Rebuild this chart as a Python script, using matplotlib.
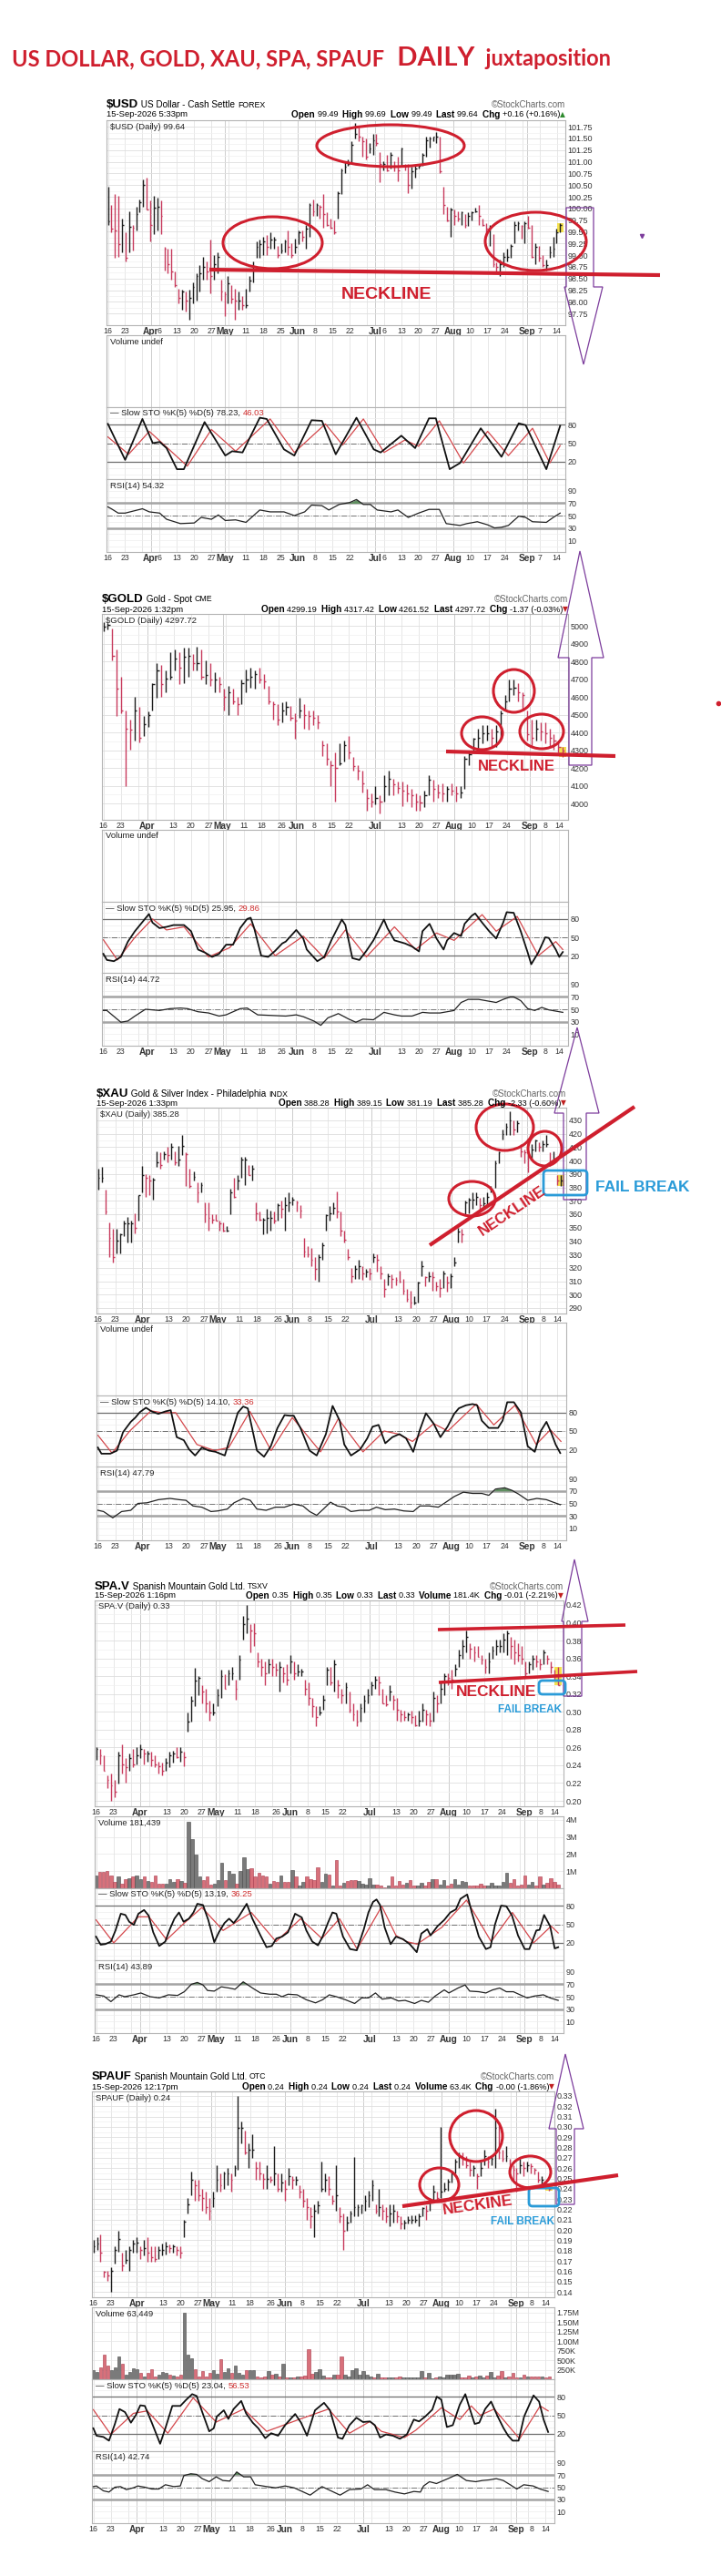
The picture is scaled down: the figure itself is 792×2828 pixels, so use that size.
import numpy as np
import matplotlib
matplotlib.use("Agg")
import matplotlib.pyplot as plt
from matplotlib import font_manager
from matplotlib.patches import Ellipse, FancyBboxPatch, Polygon

# ---------------- data ----------------
# $USD daily bars (high / low / close)
usd_hi = [100.46, 100.07, 100.30, 100.27, 99.78, 99.49, 99.94, 99.65, 100.04, 100.20,
          100.63, 100.66, 100.17, 100.27, 100.24, 100.17, 99.17, 99.13, 99.13, 98.65,
          98.29, 98.26, 98.22, 98.26, 98.42, 98.61, 98.78, 98.97, 98.87, 99.33,
          99.00, 99.07, 98.48, 98.22, 98.55, 98.35, 98.29, 98.22, 98.13, 98.29,
          98.55, 98.87, 99.30, 99.33, 99.39, 99.43, 99.49, 99.39, 99.20, 99.26,
          99.33, 99.52, 99.26, 99.36, 99.52, 99.52, 99.65, 100.11, 100.20, 100.11,
          100.07, 100.30, 99.91, 99.78, 99.75, 100.37, 100.85, 101.02, 101.05, 101.44,
          101.83, 101.73, 101.54, 101.50, 101.41, 101.60, 101.60, 101.21, 101.02, 101.15,
          101.21, 101.02, 101.11, 101.31, 100.95, 100.95, 100.89, 100.92, 100.95, 101.18,
          101.54, 101.54, 101.54, 101.63, 101.54, 100.46, 100.04, 100.01, 99.98, 99.94,
          99.94, 99.88, 99.91, 99.94, 100.01, 100.07, 99.78, 99.69, 99.65, 99.46,
          98.84, 98.91, 99.07, 99.13, 99.23, 99.72, 99.72, 99.65, 99.72, 99.85,
          99.65, 99.26, 99.20, 99.00, 98.91, 99.20, 99.39, 99.56, 99.69]
usd_lo = [99.65, 99.49, 98.94, 98.97, 99.07, 98.87, 99.07, 99.10, 99.52, 99.91,
          100.04, 99.98, 99.30, 99.46, 99.52, 99.46, 98.68, 98.61, 98.48, 98.32,
          97.96, 97.83, 97.80, 97.61, 97.96, 98.03, 98.22, 98.48, 98.48, 98.19,
          98.48, 98.61, 98.03, 97.70, 97.96, 97.96, 97.61, 97.83, 97.83, 97.87,
          98.22, 98.42, 98.94, 98.94, 99.00, 99.00, 99.13, 99.13, 98.94, 99.04,
          99.07, 99.00, 98.94, 99.04, 99.23, 99.30, 99.13, 99.39, 99.85, 99.85,
          99.78, 99.59, 99.62, 99.56, 99.46, 99.78, 100.30, 100.76, 100.92, 100.98,
          101.50, 101.44, 101.11, 101.05, 101.18, 101.15, 101.34, 100.56, 100.82, 100.79,
          100.85, 100.79, 100.59, 100.89, 100.82, 100.33, 100.43, 100.66, 100.85, 100.92,
          101.11, 101.31, 101.44, 101.41, 100.76, 99.88, 99.72, 99.39, 99.65, 99.72,
          99.65, 99.59, 99.62, 99.75, 99.91, 99.65, 99.62, 99.46, 99.20, 98.74,
          98.61, 98.55, 98.74, 98.87, 98.94, 99.26, 99.52, 99.36, 99.26, 99.56,
          98.94, 98.81, 98.87, 98.74, 98.68, 98.94, 98.97, 99.26, 99.49]
usd_cl = [99.72, 99.56, 99.52, 99.23, 99.65, 98.94, 99.60, 99.59, 99.88, 100.14,
          100.50, 99.98, 99.65, 100.01, 100.04, 99.85, 99.13, 98.81, 98.65, 98.35,
          98.09, 98.22, 98.03, 98.09, 98.32, 98.55, 98.61, 98.74, 98.65, 98.55,
          98.81, 98.97, 98.22, 98.16, 98.39, 98.06, 98.03, 98.03, 97.93, 97.93,
          98.45, 98.74, 99.17, 99.23, 99.30, 99.17, 99.33, 99.33, 99.00, 99.10,
          99.30, 99.17, 99.00, 99.17, 99.49, 99.39, 99.56, 100.07, 99.94, 100.07,
          100.04, 99.88, 99.65, 99.59, 99.49, 100.33, 100.82, 100.89, 100.95, 101.37,
          101.60, 101.54, 101.44, 101.11, 101.28, 101.47, 101.41, 100.95, 100.95, 100.82,
          101.15, 100.92, 100.82, 101.28, 100.89, 100.50, 100.79, 100.85, 100.92, 101.15,
          101.47, 101.50, 101.54, 101.54, 100.79, 100.07, 99.75, 99.98, 99.85, 99.78,
          99.91, 99.65, 99.85, 99.91, 99.94, 99.85, 99.65, 99.56, 99.59, 98.81,
          98.74, 98.81, 98.97, 98.97, 99.20, 99.65, 99.69, 99.62, 99.69, 99.59,
          98.97, 99.17, 98.94, 98.78, 98.78, 99.07, 99.13, 99.49, 99.64]
usd_k_day = [0, 5, 10, 13, 15, 17, 20, 22, 28, 34, 36, 39, 44, 46, 51, 54, 59, 62, 66, 72,
             77, 79, 85, 89, 93, 95, 99, 102, 108, 114, 119, 121, 127, 131]
usd_k = [81, 23, 89, 50, 52, 42, 8, 8, 84, 30, 37, 35, 91, 89, 40, 30, 87, 86, 32, 91,
         40, 35, 62, 42, 90, 90, 8, 18, 74, 28, 82, 79, 8, 78]
usd_d_day = [0, 6, 12, 23, 30, 37, 47, 54, 63, 68, 74, 80, 86, 90, 96, 103, 110, 116, 123, 128, 131]
usd_d = [60, 32, 69, 13, 72, 37, 89, 35, 81, 47, 89, 35, 55, 45, 86, 18, 69, 30, 74, 18, 46]
usd_rsi_day = [0, 1, 3, 5, 10, 12, 15, 17, 21, 25, 27, 30, 32, 34, 37, 40, 44, 47, 51, 54,
               57, 59, 62, 64, 67, 70, 72, 74, 76, 78, 82, 84, 87, 90, 93, 96, 98, 102, 104, 107,
               110, 112, 114, 116, 119, 121, 123, 127, 129, 131]
usd_rsi = [64, 61, 54, 54, 61, 56, 54, 44, 37, 38, 47, 44, 51, 42, 43, 39, 59, 56, 56, 50,
           56, 67, 66, 59, 68, 71, 76, 68, 68, 59, 56, 59, 47, 54, 60, 60, 37, 34, 37, 40,
           35, 30, 31, 34, 49, 47, 40, 39, 47, 54]

# $GOLD
gold_hi = [5020, 5017, 4986, 4867, 4713, 4525, 4474, 4602, 4542, 4491,
           4516, 4679, 4790, 4781, 4747, 4850, 4867, 4850, 4875, 4875,
           4841, 4884, 4867, 4807, 4790, 4738, 4713, 4644, 4662, 4644,
           4602, 4696, 4756, 4764, 4747, 4764, 4730, 4662, 4576, 4559,
           4568, 4576, 4550, 4508, 4593, 4559, 4525, 4525, 4499, 4354,
           4337, 4243, 4285, 4337, 4354, 4379, 4260, 4217, 4183, 4080,
           4055, 4097, 4046, 4157, 4183, 4140, 4123, 4123, 4106, 4080,
           4055, 4046, 4072, 4157, 4132, 4106, 4115, 4097, 4115, 4097,
           4097, 4268, 4285, 4371, 4422, 4439, 4439, 4422, 4439, 4525,
           4610, 4696, 4696, 4679, 4627, 4525, 4474, 4474, 4456, 4456,
           4422, 4388, 4354, 4317]
gold_lo = [4969, 4978, 4807, 4491, 4508, 4097, 4303, 4354, 4345, 4379,
           4431, 4525, 4593, 4602, 4627, 4696, 4747, 4670, 4679, 4713,
           4747, 4747, 4696, 4670, 4662, 4627, 4627, 4525, 4499, 4559,
           4499, 4559, 4627, 4653, 4644, 4679, 4644, 4559, 4474, 4439,
           4456, 4499, 4465, 4362, 4482, 4422, 4414, 4439, 4422, 4268,
           4217, 4097, 4012, 4217, 4234, 4251, 4183, 4132, 4063, 3961,
           3978, 3995, 3944, 4012, 4046, 4046, 4055, 3986, 4012, 3978,
           3961, 3961, 3978, 4046, 4012, 4029, 4012, 4012, 4046, 4012,
           4029, 4080, 4217, 4285, 4303, 4337, 4354, 4320, 4320, 4371,
           4525, 4576, 4610, 4576, 4525, 4354, 4320, 4354, 4354, 4337,
           4320, 4303, 4285, 4262]
gold_cl = [4995, 5003, 4832, 4644, 4525, 4422, 4414, 4525, 4371, 4448,
           4499, 4670, 4747, 4670, 4704, 4713, 4815, 4764, 4824, 4832,
           4790, 4790, 4713, 4721, 4696, 4696, 4670, 4602, 4627, 4576,
           4559, 4679, 4696, 4713, 4730, 4696, 4687, 4576, 4559, 4474,
           4525, 4542, 4482, 4465, 4525, 4499, 4491, 4482, 4456, 4328,
           4251, 4217, 4200, 4226, 4328, 4285, 4209, 4183, 4115, 4029,
           4012, 4029, 4012, 4097, 4140, 4106, 4089, 4072, 4055, 4046,
           4012, 4003, 4046, 4132, 4080, 4063, 4055, 4080, 4072, 4055,
           4063, 4251, 4277, 4362, 4371, 4397, 4397, 4371, 4405, 4508,
           4576, 4644, 4653, 4627, 4610, 4388, 4371, 4422, 4405, 4397,
           4371, 4354, 4320, 4298]
gold_k_day = [0, 1, 3, 5, 7, 9, 11, 13, 14, 16, 18, 20, 23, 25, 27, 29, 31, 33, 35, 37,
              39, 41, 42, 43, 45, 47, 49, 51, 52, 55, 57, 58, 61, 63, 65, 68, 69, 71, 73, 75,
              77, 80, 81, 83, 86, 88, 90, 91, 93, 95, 97, 98, 100, 102, 103, 105, 106, 108, 110, 112,
              114, 115, 117, 119, 121, 122, 124, 126, 127, 129, 130, 131]
gold_k = [23, 13, 11, 18, 43, 60, 74, 88, 74, 65, 67, 70, 70, 60, 30, 25, 18, 23, 38, 38,
          65, 80, 82, 65, 20, 18, 28, 40, 43, 62, 48, 30, 11, 18, 45, 79, 70, 16, 13, 28,
          45, 79, 65, 45, 40, 35, 27, 60, 72, 48, 30, 45, 57, 52, 72, 85, 89, 74, 60, 48,
          74, 91, 90, 60, 25, 6, 25, 50, 49, 30, 18, 26]
gold_d_day = [0, 4, 9, 14, 18, 23, 30, 36, 42, 49, 57, 63, 69, 75, 83, 89, 95, 100, 108, 112,
              118, 124, 129, 131]
gold_d = [46, 13, 50, 80, 62, 67, 18, 33, 72, 20, 52, 16, 62, 18, 67, 30, 57, 45, 87, 60,
          84, 20, 43, 30]
gold_rsi_day = [0, 1, 5, 7, 9, 12, 16, 19, 22, 24, 27, 30, 33, 35, 39, 41, 44, 48, 52, 55,
                57, 60, 62, 64, 67, 70, 72, 74, 77, 80, 83, 85, 88, 91, 93, 96, 98, 100, 102, 104,
                107, 110, 112, 114, 116, 117, 119, 121, 123, 125, 127, 130, 131]
gold_rsi = [48, 48, 29, 31, 39, 50, 48, 51, 52, 51, 46, 44, 39, 41, 51, 52, 41, 40, 39, 41,
            38, 31, 24, 36, 43, 34, 29, 34, 33, 45, 41, 39, 39, 45, 44, 44, 46, 48, 61, 66,
            66, 63, 61, 66, 70, 70, 64, 51, 48, 53, 49, 46, 45]

# $XAU
xau_hi = [394, 395, 378, 354, 349, 349, 346, 355, 358, 355, 361, 374, 396, 390, 389, 387, 407, 406, 407, 410,
          413, 407, 411, 419, 406, 394, 392, 384, 384, 369, 369, 360, 360, 355, 354, 351, 379, 387, 389, 403,
          403, 397, 397, 369, 362, 357, 364, 363, 362, 368, 370, 373, 376, 373, 370, 367, 342, 336, 335, 328,
          330, 339, 360, 366, 369, 377, 362, 348, 334, 320, 322, 326, 321, 319, 320, 331, 330, 321, 312, 316,
          315, 313, 318, 312, 304, 303, 299, 310, 325, 314, 317, 317, 310, 312, 318, 314, 316, 328, 350, 349,
          370, 372, 376, 376, 372, 373, 376, 381, 400, 407, 423, 428, 437, 430, 430, 412, 408, 404, 412, 416,
          414, 415, 419, 406, 407, 389, 389]
xau_lo = [378, 384, 360, 328, 324, 331, 331, 344, 339, 339, 346, 355, 376, 373, 374, 371, 395, 394, 401, 399,
          401, 397, 396, 404, 381, 380, 385, 369, 376, 354, 348, 353, 355, 348, 347, 347, 360, 372, 378, 387,
          382, 389, 385, 355, 355, 345, 346, 348, 353, 355, 357, 348, 362, 367, 362, 357, 328, 328, 321, 311,
          310, 326, 348, 355, 360, 357, 344, 339, 326, 309, 312, 312, 311, 313, 311, 324, 317, 312, 298, 307,
          305, 307, 309, 300, 295, 290, 293, 294, 314, 306, 310, 303, 303, 298, 305, 302, 305, 321, 339, 339,
          360, 361, 364, 367, 362, 364, 367, 376, 380, 398, 416, 419, 419, 419, 421, 403, 398, 391, 401, 407,
          407, 407, 410, 396, 398, 382, 381]
xau_cl = [387, 387, 362, 342, 328, 340, 345, 353, 353, 353, 350, 374, 389, 387, 385, 386, 399, 397, 405, 404,
          410, 399, 401, 411, 405, 381, 388, 376, 382, 360, 357, 356, 355, 353, 348, 348, 376, 373, 385, 401,
          401, 389, 394, 361, 356, 356, 357, 357, 355, 367, 364, 367, 369, 371, 369, 363, 332, 330, 326, 319,
          328, 337, 359, 361, 365, 362, 348, 341, 328, 314, 319, 321, 316, 317, 316, 328, 326, 316, 304, 314,
          312, 311, 310, 303, 297, 294, 294, 309, 321, 313, 314, 313, 306, 305, 316, 309, 314, 324, 347, 345,
          369, 371, 371, 373, 367, 368, 373, 378, 398, 406, 420, 425, 430, 423, 428, 407, 406, 403, 408, 415,
          410, 412, 412, 398, 401, 385, 385]
xau_k_day = [0, 1, 3.5, 5.4, 7.1, 9.3, 10.6, 11.9, 13.6, 15.2, 17.1, 19.1, 20.6, 22.3, 24.3, 25.8, 27.5, 29.4,
             31.4, 33.3, 35.9, 37.9, 39.6, 41.1, 42.4, 45, 47, 48.9, 50.8, 52.8, 54.3, 55.4, 57.3, 59.9, 61.9,
             64.5, 66.4, 68.4, 69.7, 71.6, 74.2, 76.2, 77.7, 79.4, 81.3, 83.3, 85.3, 87.2, 89.2, 91.1, 92.8, 95,
             96.9, 98.9, 100.8, 102.1, 104.1, 106, 107.3, 108.6, 110.6, 113.2, 114.5, 115.8, 117.7, 119.7, 121.6,
             123.6, 125.3, 126.9, 128.2, 129.5, 130.8]
xau_k = [23, 13, 13, 18, 48, 65, 72, 81, 88, 82, 78, 82, 84, 40, 35, 20, 10, 23, 18, 16,
         10, 48, 80, 90, 87, 18, 8, 25, 55, 76, 75, 75, 55, 18, 10, 45, 91, 67, 28, 10,
         20, 38, 57, 60, 30, 40, 45, 38, 16, 52, 79, 62, 40, 57, 78, 87, 92, 94, 92, 67,
         55, 55, 67, 97, 97, 80, 25, 16, 50, 65, 48, 28, 14]
xau_d_day = [0, 4, 9, 15, 18, 22, 28, 33, 37, 43, 49, 55, 63, 68, 75, 81, 85, 89, 95, 99,
             107, 112, 118, 124, 128, 131]
xau_d = [43, 14, 50, 83, 80, 80, 28, 18, 23, 82, 18, 72, 16, 70, 16, 50, 45, 33, 62, 50,
         94, 60, 92, 28, 52, 33]
xau_rsi_day = [0, 1.6, 4.2, 6.7, 9.3, 11.3, 13.9, 17.1, 20.4, 23, 24.9, 26.9, 29.4, 32, 33.9, 36.6, 38.5,
               41.1, 43.1, 45, 47.6, 50.2, 52.8, 55.4, 58, 59.9, 61.9, 63.8, 65.8, 67.7, 69.7, 71.6, 74.2,
               76.8, 78.8, 81.3, 83.9, 86.5, 89.2, 91.1, 93.7, 96.3, 98.2, 100.8, 103.4, 106, 108.6, 110.6,
               112.5, 115.1, 117.1, 119, 121.6, 124.2, 126.9, 128.8, 130.8]
xau_rsi = [39, 37, 27, 37, 39, 50, 51, 56, 58, 56, 55, 46, 44, 37, 38, 41, 51, 58, 55, 41,
           39, 44, 44, 49, 46, 37, 31, 41, 52, 46, 44, 37, 39, 39, 44, 40, 41, 38, 37, 46,
           46, 44, 51, 61, 68, 66, 66, 63, 73, 75, 71, 65, 55, 58, 56, 52, 48]

# SPA.V
spa_hi = [.260, .258, .251, .229, .231, .224, .255, .263, .248, .253, .258, .260, .263, .258, .256, .255,
          .251, .244, .243, .248, .255, .256, .260, .260, .255, .299, .318, .349, .340, .330, .326, .313,
          .309, .326, .347, .342, .347, .350, .336, .364, .408, .420, .398, .400, .367, .360, .357, .360,
          .360, .355, .357, .350, .354, .364, .357, .354, .348, .336, .333, .316, .306, .306, .319, .350,
          .350, .359, .336, .326, .333, .323, .309, .302, .309, .319, .326, .334, .340, .340, .326, .319,
          .330, .319, .316, .302, .301, .299, .301, .296, .301, .309, .302, .299, .323, .319, .333, .343,
          .343, .347, .354, .370, .381, .391, .377, .374, .374, .364, .360, .367, .374, .381, .381, .388,
          .391, .384, .381, .377, .374, .357, .357, .364, .364, .360, .370, .364, .357, .347, .350]
spa_lo = [.246, .241, .234, .214, .200, .204, .219, .231, .221, .234, .238, .241, .248, .241, .244, .239,
          .238, .231, .229, .234, .238, .243, .248, .244, .239, .278, .289, .306, .319, .309, .299, .290,
          .296, .306, .316, .326, .330, .336, .314, .336, .381, .388, .367, .374, .350, .340, .330, .343,
          .340, .340, .323, .333, .330, .343, .336, .340, .340, .319, .307, .294, .284, .296, .302, .330,
          .330, .323, .316, .309, .309, .299, .290, .284, .289, .299, .309, .319, .326, .319, .309, .306,
          .313, .302, .290, .289, .290, .290, .287, .284, .284, .289, .285, .284, .289, .299, .309, .319,
          .330, .326, .340, .350, .360, .367, .360, .357, .362, .353, .343, .343, .360, .364, .367, .367,
          .364, .360, .353, .357, .353, .340, .343, .347, .350, .347, .353, .353, .343, .336, .330]
spa_cl = [.258, .251, .234, .224, .217, .210, .251, .241, .238, .248, .241, .251, .258, .253, .253, .246,
          .241, .239, .234, .243, .251, .253, .249, .255, .249, .289, .313, .335, .338, .323, .309, .299,
          .299, .319, .340, .326, .343, .343, .326, .359, .398, .405, .391, .388, .357, .350, .343, .354,
          .350, .347, .350, .343, .336, .357, .343, .345, .345, .326, .316, .306, .294, .299, .314, .347,
          .333, .353, .330, .319, .328, .302, .297, .289, .304, .313, .319, .330, .336, .333, .309, .308,
          .323, .314, .302, .297, .294, .297, .294, .285, .290, .302, .297, .290, .316, .309, .326, .340,
          .338, .336, .348, .364, .374, .384, .371, .367, .362, .359, .350, .357, .369, .374, .374, .381,
          .388, .374, .367, .364, .360, .343, .354, .360, .357, .354, .367, .360, .350, .340, .330]
spa_vol_m = [0.76, 0.98, 0.94, 1.0, 0.76, 0.36, 0.71, 0.28, 0.55, 0.59, 0.68, 0.76, 0.53, 0.68, 0.44, 0.36,
             0.75, 0.27, 0.27, 0.28, 0.53, 0.36, 0.55, 0.44, 0.32, 3.9, 2.85, 1.96, 0.68, 0.5, 0.71, 0.23,
             0.28, 0.5, 1.48, 0.46, 1.03, 0.85, 0.28, 1.0, 1.83, 1.12, 1.17, 0.68, 0.89, 0.75, 0.68, 0.27,
             0.44, 0.36, 0.76, 0.36, 0.36, 1.08, 0.68, 0.14, 0.36, 0.68, 0.53, 0.46, 1.21, 0.36, 0.85, 0.82,
             0.14, 1.64, 0.14, 0.32, 0.44, 0.48, 0.48, 0.41, 0.27, 0.2, 0.57, 0.23, 0.23, 0.18, 0.05, 0.14,
             0.68, 0.14, 0.41, 0.23, 0.32, 0.5, 0.14, 0.14, 0.32, 0.18, 0.36, 0.53, 0.53, 0.23, 0.5, 0.14,
             0.28, 0.53, 0.23, 0.41, 0.36, 0.14, 0.14, 0.18, 0.28, 0.14, 0.14, 0.32, 0.14, 0.18, 0.36, 0.89,
             0.32, 0.53, 0.18, 0.23, 0.73, 0.23, 0.36, 0.14, 0.68, 0.23, 0.32, 0.57, 0.36, 0.23]
spa_k_day = [0, 1.3, 2.6, 4.2, 5.5, 7, 8.3, 9.4, 10.7, 12, 13.6, 14.9, 16.2, 17.9, 19.6, 20.9, 22.2, 23.5,
             24.8, 26.3, 27.6, 28.7, 30.3, 31.8, 33.5, 34.8, 36.4, 37.7, 39, 40.4, 42.7, 44.3, 46.6, 48.3,
             49.8, 51.1, 52.7, 54.4, 56.4, 58.3, 59.6, 61.3, 62.9, 64.2, 65.7, 67, 68.1, 70, 72, 73.9, 75.9,
             77.2, 78.5, 79.5, 80.5, 81.8, 83.5, 85, 87, 88.9, 90.9, 92.2, 93.9, 94.8, 96.8, 98.7, 100.4, 102,
             103.3, 105.2, 106.5, 108.5, 110.5, 111.8, 113.1, 114.8, 116.3, 117.9, 119.6, 121.5, 122.8, 124.8,
             125.7, 127, 128.7, 130, 131]
spa_k = [30, 17, 18, 22, 40, 67, 65, 54, 49, 67, 73, 64, 37, 15, 22, 42, 59, 69, 54, 59,
         69, 83, 81, 57, 21, 37, 52, 59, 52, 62, 83, 59, 32, 13, 15, 27, 30, 37, 67, 61,
         40, 22, 16, 30, 52, 69, 67, 30, 10, 8, 42, 69, 86, 90, 81, 45, 18, 30, 26, 18,
         5, 35, 42, 32, 47, 57, 69, 74, 91, 98, 69, 30, 10, 13, 50, 80, 79, 64, 32, 10,
         10, 40, 41, 65, 47, 11, 13]
spa_d_day = [0, 5, 12, 15, 20, 25, 30, 36, 44, 51, 58, 64, 69, 74, 81, 85, 88, 91, 98, 105,
             112, 118, 124, 129, 131]
spa_d = [57, 20, 62, 62, 25, 52, 77, 40, 69, 22, 59, 27, 59, 10, 79, 32, 22, 18, 45, 89,
         22, 69, 20, 47, 36]
spa_rsi_day = [0, 2.2, 4.2, 6.5, 8.1, 10.7, 12.7, 15.3, 17.9, 20.5, 23.1, 25, 27, 28.7, 30.3, 31.6, 33.5,
               35.5, 37.7, 39.4, 41.7, 43.3, 44.6, 46.6, 49.2, 51.1, 52.7, 54.4, 57, 59.6, 62.2, 64.2, 66.1,
               68.1, 70.7, 73.3, 75.3, 77.2, 79.2, 81.1, 83.7, 85.7, 87.6, 90.3, 92.2, 94.2, 96.1, 98.7, 100,
               102.6, 104.6, 105.9, 108.5, 110.5, 112.4, 114.4, 116.3, 118.3, 120.2, 122.2, 124.2, 126.8,
               128.7, 131]
spa_rsi = [53, 51, 42, 53, 50, 53, 56, 50, 48, 53, 52, 58, 70, 73, 69, 60, 59, 66, 64, 62,
           74, 68, 63, 56, 54, 54, 50, 54, 53, 45, 40, 45, 53, 50, 45, 39, 48, 48, 56, 46,
           48, 43, 44, 39, 44, 41, 51, 61, 56, 64, 69, 59, 58, 56, 61, 64, 58, 58, 53, 48,
           51, 53, 48, 44]

# SPAUF
spauf_hi = [.190, .193, .196, .160, .160, .164, .184, .199, .178, .181, .184, .190, .193, .184, .190, .193,
            .184, .184, .184, .187, .189, .186, .186, .184, .184, .210, .231, .257, .249, .249, .240, .237,
            .231, .237, .263, .255, .257, .260, .255, .263, .330, .305, .296, .284, .293, .266, .266, .255,
            .263, .252, .281, .255, .255, .249, .260, .252, .252, .243, .240, .231, .222, .225, .228, .266,
            .255, .252, .234, .263, .222, .216, .213, .219, .271, .225, .225, .234, .238, .249, .225, .240,
            .225, .222, .225, .225, .219, .213, .210, .213, .214, .214, .216, .222, .224, .231, .243, .237,
            .300, .246, .250, .257, .269, .275, .275, .272, .266, .263, .255, .266, .278, .272, .272, .318,
            .302, .278, .281, .269, .263, .260, .269, .266, .266, .265, .260, .257, .252, .246, .243]
spauf_lo = [.178, .181, .169, .154, .151, .140, .167, .179, .160, .167, .160, .178, .178, .172, .175, .169,
            .169, .169, .172, .175, .176, .178, .178, .175, .173, .193, .216, .234, .228, .228, .219, .216,
            .210, .222, .237, .237, .240, .243, .237, .252, .258, .284, .273, .260, .270, .249, .249, .240,
            .240, .246, .243, .237, .237, .228, .243, .240, .243, .231, .222, .210, .202, .193, .216, .237,
            .237, .234, .225, .219, .207, .181, .199, .207, .213, .213, .216, .219, .222, .228, .216, .213,
            .210, .207, .204, .207, .207, .201, .201, .206, .206, .207, .204, .213, .210, .219, .228, .228,
            .231, .237, .238, .246, .255, .260, .263, .260, .252, .252, .240, .252, .263, .260, .263, .260,
            .269, .266, .266, .257, .249, .237, .255, .252, .257, .255, .254, .246, .245, .240, .238]
spauf_cl = [.184, .187, .178, .159, .156, .160, .181, .191, .166, .171, .181, .187, .188, .181, .182, .178,
            .174, .172, .181, .181, .184, .182, .184, .181, .178, .208, .225, .249, .243, .234, .231, .222,
            .219, .231, .249, .243, .255, .255, .249, .260, .299, .299, .275, .278, .278, .260, .255, .250,
            .250, .249, .255, .240, .246, .240, .252, .249, .249, .237, .228, .222, .213, .219, .224, .240,
            .249, .240, .228, .234, .213, .199, .207, .216, .222, .222, .224, .228, .234, .243, .219, .222,
            .219, .213, .216, .219, .213, .206, .207, .210, .210, .210, .213, .221, .219, .228, .237, .231,
            .237, .240, .247, .255, .266, .272, .269, .263, .258, .260, .252, .260, .272, .266, .269, .299,
            .275, .269, .272, .263, .258, .255, .263, .260, .263, .262, .258, .249, .249, .243, .240]
spauf_vol_k = [242, 200, 300, 645, 363, 242, 322, 588, 403, 121, 200, 282, 266, 161, 81, 161, 258, 81, 121,
               185, 161, 121, 105, 81, 121, 1750, 645, 540, 258, 81, 218, 81, 161, 242, 137, 524, 200, 298,
               161, 347, 161, 121, 242, 242, 242, 81, 56, 81, 218, 121, 137, 81, 395, 56, 40, 56, 81, 81,
               105, 782, 137, 200, 258, 105, 56, 56, 121, 121, 588, 121, 81, 242, 282, 121, 218, 121, 81, 56,
               137, 40, 40, 40, 56, 40, 81, 56, 56, 56, 56, 56, 218, 56, 177, 24, 40, 81, 56, 121, 121, 121,
               137, 56, 40, 97, 56, 81, 97, 56, 105, 200, 56, 97, 218, 56, 81, 161, 40, 56, 121, 81, 81, 81,
               81, 81, 56, 63]
spauf_k_day = [0, 0.9, 2.9, 4.5, 6.2, 7.5, 9.1, 10.8, 12.2, 13.5, 14.8, 16.8, 19.2, 20.7, 22.7, 25, 26.7,
               28.4, 29.7, 31.3, 33.3, 34.6, 35.5, 37.5, 38.8, 40.3, 42.5, 43.9, 45.8, 47.4, 49.4, 51.1, 53.1,
               55.1, 58, 59.7, 61.4, 63.7, 66.3, 68, 70.3, 71.6, 73.6, 75.6, 77.5, 79.5, 80.9, 82.4, 84.1,
               86.1, 88.1, 90.1, 92.1, 93.6, 95.4, 97.4, 98.7, 100, 101.6, 103.3, 105.3, 106.9, 108.2, 109.6,
               110.9, 112.6, 114.3, 116.2, 117.9, 119.2, 120.5, 122.2, 123.8, 126.5, 128.1, 129.4, 130.7]
spauf_k = [29, 17, 15, 9, 36, 60, 55, 38, 50, 66, 65, 38, 4, 29, 65, 65, 75, 84, 81, 55,
           24, 29, 48, 58, 44, 60, 73, 53, 38, 29, 13, 21, 17, 34, 52, 38, 17, 58, 70, 58,
           14, 12, 34, 46, 39, 40, 34, 14, 19, 17, 12, 19, 43, 40, 48, 59, 80, 75, 31, 34,
           67, 84, 60, 36, 38, 60, 72, 48, 29, 17, 9, 9, 48, 82, 72, 43, 23]
spauf_d_day = [0, 5, 11.5, 15.5, 21.4, 28.7, 35.3, 43.2, 49.8, 59, 67.6, 73.6, 79.5, 82.8, 89.4, 92.7,
               100, 105.3, 108.6, 111.2, 115.2, 122.5, 128.4, 130.7]
spauf_d = [59, 19, 53, 57, 21, 78, 39, 60, 24, 43, 60, 21, 40, 24, 14, 26, 62, 43, 65, 50, 60, 12, 65, 57]
spauf_rsi_day = [0, 0.9, 2.9, 4.5, 6.2, 7.8, 9.5, 11.5, 12.8, 14.8, 16.8, 18.8, 20.7, 23.1, 25, 26, 28, 29.7,
                 31.3, 33.3, 35.3, 37.2, 39.2, 41.2, 43.2, 45.2, 46.5, 49.8, 52.4, 55.1, 57.7, 60.4, 62.3,
                 65.7, 68.3, 70.9, 73.6, 76.9, 78.8, 80.8, 84.1, 86.7, 89.4, 92.1, 94, 94.9, 96.6, 98.6, 101.9,
                 104.6, 107.2, 109.9, 111.8, 113.8, 115.8, 117.8, 119.8, 121.7, 123.7, 126.4, 128.4, 130.7]
spauf_rsi = [51, 52, 44, 42, 50, 51, 46, 49, 52, 50, 47, 47, 54, 51, 52, 69, 72, 71, 64, 59,
             67, 61, 60, 75, 67, 67, 54, 51, 49, 52, 49, 42, 37, 51, 44, 37, 46, 47, 54, 46,
             46, 42, 39, 43, 42, 52, 59, 56, 64, 71, 61, 59, 61, 62, 64, 61, 54, 47, 54, 52,
             47, 43]

# axis ticks
usd_yticks = [97.75, 98.0, 98.25, 98.5, 98.75, 99.0, 99.25, 99.5, 99.75, 100.0, 100.25, 100.5,
              100.75, 101.0, 101.25, 101.5, 101.75]
gold_yticks = [4000, 4100, 4200, 4300, 4400, 4500, 4600, 4700, 4800, 4900, 5000]
xau_yticks = [290, 300, 310, 320, 330, 340, 350, 360, 370, 380, 390, 400, 410, 420, 430]
spa_yticks = [0.20, 0.22, 0.24, 0.26, 0.28, 0.30, 0.32, 0.34, 0.36, 0.38, 0.40, 0.42]
spauf_yticks = [0.14, 0.15, 0.16, 0.17, 0.18, 0.19, 0.20, 0.21, 0.22, 0.23, 0.24, 0.25, 0.26, 0.27,
                0.28, 0.29, 0.30, 0.31, 0.32, 0.33]
spa_vticks = [1, 2, 3, 4]
spa_vlabels = ["1M", "2M", "3M", "4M"]
spauf_vticks = [250, 500, 750, 1000, 1250, 1500, 1750]
spauf_vlabels = ["250K", "500K", "750K", "1.00M", "1.25M", "1.50M", "1.75M"]
dates_usd = [(0, "16"), (5, "23"), (12.5, "Apr"), (15, "6"), (20, "13"), (25, "20"), (30, "27"), (34, "May"),
             (40, "11"), (45, "18"), (50, "25"), (55, "Jun"), (60, "8"), (65, "15"), (70, "22"), (77.5, "Jul"),
             (80, "6"), (85, "13"), (90, "20"), (95, "27"), (100, "Aug"), (105, "10"), (110, "17"), (115, "24"),
             (121.5, "Sep"), (125, "7"), (130, "14")]
dates_other = [(0, "16"), (5, "23"), (12.5, "Apr"), (20, "13"), (25, "20"), (30, "27"), (34, "May"),
               (40, "11"), (45, "18"), (51, "26"), (55, "Jun"), (60, "8"), (65, "15"), (70, "22"), (77.5, "Jul"),
               (85, "13"), (90, "20"), (95, "27"), (100, "Aug"), (105, "10"), (110, "17"), (115, "24"),
               (121.5, "Sep"), (126, "8"), (130, "14")]

# ---------------- layout ----------------
W, H = 792, 2828
fig = plt.figure(figsize=(W / 100, H / 100), dpi=100, facecolor="white")
installed = {f.name for f in font_manager.fontManager.ttflist}
NARROW = [f for f in ("Liberation Sans Narrow", "Liberation Sans") if f in installed] + ["DejaVu Sans"]
TITLEF = [f for f in ("Lato",) if f in installed] + ["DejaVu Sans"]
RED = "#cf1f2e"
BLUE = "#2a9bd8"
PURPLE = "#7c3c9c"
UP, DOWN = "#1c1c1c", "#c73a5c"
LAST_DAY = 131
WEEKS = list(range(0, 131, 5))
MONTHS = [12.5, 34, 55, 77.5, 100, 121.5]

ov = fig.add_axes([0, 0, 1, 1], zorder=10)
ov.set_xlim(0, W)
ov.set_ylim(H, 0)
ov.axis("off")
renderer = fig.canvas.get_renderer()


def box_axes(l, t, r, b):
    return fig.add_axes([l / W, 1 - b / H, (r - l) / W, (b - t) / H])


def rich(x, y, parts, ha="left", va="center", family=None):
    items = []
    for s, kw in parts:
        kw = dict(kw)
        kw.setdefault("family", family or NARROW)
        items.append(ov.text(0, y, s, ha="left", va=va, **kw))
    widths = [t.get_window_extent(renderer).width for t in items]
    x0 = {"left": x, "right": x - sum(widths), "center": x - sum(widths) / 2}[ha]
    for t, w in zip(items, widths):
        t.set_x(x0)
        x0 += w
    return items


def frame(ax, ylim):
    ax.set_xlim(-0.4, 132.5)
    ax.set_ylim(*ylim)
    for s in ax.spines.values():
        s.set_color("#b4b4b4")
        s.set_linewidth(0.8)
    ax.yaxis.tick_right()
    ax.tick_params(length=0, pad=2, labelsize=6.5, colors="#333333")
    for d in WEEKS:
        ax.axvline(d, color="#e3e3e3", lw=0.6, zorder=0)
    for d in MONTHS:
        ax.axvline(d, color="#cdcdcd", lw=0.7, zorder=0)
    ax.set_xticks([])
    ax.set_yticks([])


def date_labels(ax, ticks):
    ax.set_xticks([d for d, _ in ticks])
    labs = ax.set_xticklabels([s for _, s in ticks], family=NARROW, fontsize=6.3, color="#333333")
    for lab in labs:
        if lab.get_text().isalpha():
            lab.set_fontweight("bold")
            lab.set_fontsize(7.3)
    ax.tick_params(axis="x", pad=1.5)


def draw_price(box, hi, lo, cl, ylim, yticks, fmt, ticks):
    ax = box_axes(*box)
    frame(ax, ylim)
    hi, lo, cl = np.asarray(hi), np.asarray(lo), np.asarray(cl)
    x = np.linspace(0, LAST_DAY, len(cl))
    step = x[1] - x[0]
    up = np.r_[True, cl[1:] >= cl[:-1]]
    col = np.where(up, UP, DOWN)
    ax.bar(x[-1], hi[-1] - lo[-1], bottom=lo[-1], width=max(step * 1.6, 2.0), color="#f4e04d", zorder=1)
    ax.vlines(x, lo, hi, colors=col, lw=1.0, zorder=2)
    ax.hlines(cl, x, x + step * 0.45, colors=col, lw=1.0, zorder=2)
    ax.set_yticks(yticks)
    ax.set_yticklabels([fmt.format(v) for v in yticks], family=NARROW)
    for v in yticks:
        ax.axhline(v, color="#dedede", lw=0.6, zorder=0)
    for a, b in zip(yticks[:-1], yticks[1:]):
        ax.axhline((a + b) / 2, color="#f0f0f0", lw=0.5, zorder=0)
    date_labels(ax, ticks)
    return x, up


def draw_volume(box, vol=None, xp=None, upp=None, ylim=(0, 1), yticks=(), ylabels=()):
    ax = box_axes(*box)
    frame(ax, ylim)
    if vol is not None:
        vol = np.asarray(vol)
        xv = np.linspace(0, LAST_DAY, len(vol))
        idx = np.abs(xp[None, :] - xv[:, None]).argmin(axis=1)
        upv = upp[idx]
        ax.bar(xv, vol, width=(xv[1] - xv[0]) * 0.85, color=np.where(upv, "#7a7a7a", "#d8707a"),
               edgecolor=np.where(upv, "#474747", "#a8384a"), lw=0.4, zorder=2)
        ax.set_yticks(yticks)
        ax.set_yticklabels(ylabels, family=NARROW)
        for v in yticks:
            ax.axhline(v, color="#e6e6e6", lw=0.5, zorder=0)


def draw_sto(box, kd, kv, dd, dv):
    ax = box_axes(*box)
    frame(ax, (-8, 108))
    for v in range(0, 101, 10):
        ax.axhline(v, color="#ededed", lw=0.5, zorder=0)
    ax.axhline(80, color="#6e6e6e", lw=0.9, zorder=1)
    ax.axhline(20, color="#6e6e6e", lw=0.9, zorder=1)
    ax.axhline(50, color="#6e6e6e", lw=0.7, ls="-.", zorder=1)
    ax.plot(dd, dv, color="#d4484c", lw=0.9, zorder=2)
    ax.plot(kd, kv, color="#111111", lw=1.3, zorder=3)
    ax.set_yticks([20, 50, 80])
    ax.set_yticklabels(["20", "50", "80"], family=NARROW)


def draw_rsi(box, days, vals, ticks):
    ax = box_axes(*box)
    frame(ax, (-9, 109))
    for v in range(0, 101, 10):
        ax.axhline(v, color="#ededed", lw=0.5, zorder=0)
    ax.axhline(70, color="#a4a4a4", lw=1.8, zorder=1)
    ax.axhline(30, color="#a4a4a4", lw=1.8, zorder=1)
    ax.axhline(50, color="#777777", lw=0.7, ls="-.", zorder=1)
    days, vals = np.asarray(days, float), np.asarray(vals, float)
    ax.fill_between(days, 70, vals, where=vals > 70, interpolate=True, color="#5f8f60", lw=0, zorder=2)
    ax.plot(days, vals, color="#222222", lw=0.9, zorder=3)
    ax.set_yticks([10, 30, 50, 70, 90])
    ax.set_yticklabels(["10", "30", "50", "70", "90"], family=NARROW)
    date_labels(ax, ticks)


def header(l, r, y1, y2, sym, desc, exch, stamp, quote, arrow, arrow_col):
    rich(l, y1, [(sym, dict(fontsize=9.5, weight="bold")), (" " + desc + " ", dict(fontsize=7.2)),
                 (exch, dict(fontsize=6.3))])
    rich(r, y1, [("\u00a9StockCharts.com", dict(fontsize=7, color="#666666"))], ha="right")
    rich(l, y2, [(stamp, dict(fontsize=6.8))])
    parts = []
    for k, v in quote:
        parts += [(k + " ", dict(fontsize=7.2, weight="bold")), (v + "  ", dict(fontsize=6.6))]
    parts[-1] = (parts[-1][0].rstrip(), parts[-1][1])
    parts.append((arrow, dict(fontsize=5.5, color=arrow_col, family=["DejaVu Sans"])))
    rich(r, y2, parts, ha="right")


def inner_labels(price_box, vol_box, sto_box, rsi_box, plabel, vlabel, kval, dval, rval):
    rich(price_box[0] + 4, price_box[1] + 7, [(plabel, dict(fontsize=6.8, color="#222222"))])
    rich(vol_box[0] + 4, vol_box[1] + 7, [(vlabel, dict(fontsize=6.8, color="#222222"))])
    rich(sto_box[0] + 4, sto_box[1] + 7, [("\u2014 Slow STO %K(5) %D(5) " + kval + ", ", dict(fontsize=6.8, color="#222222")),
                                          (dval, dict(fontsize=6.8, color="#d03030"))])
    rich(rsi_box[0] + 4, rsi_box[1] + 7, [("RSI(14) " + rval, dict(fontsize=6.8, color="#222222"))])


panels = [
    dict(price=(117, 132, 621, 357), vol=(117, 368, 621, 447), sto=(117, 447, 621, 526), rsi=(117, 526, 621, 606),
         hdr=(115, 126), hi=usd_hi, lo=usd_lo, cl=usd_cl, ylim=(97.50, 101.89), yt=usd_yticks, fmt="{:.2f}",
         dates=dates_usd, k=(usd_k_day, usd_k), d=(usd_d_day, usd_d), r=(usd_rsi_day, usd_rsi),
         sym="$USD", desc="US Dollar - Cash Settle", exch="FOREX", stamp="15-Sep-2026 5:33pm",
         quote=[("Open", "99.49"), ("High", "99.69"), ("Low", "99.49"), ("Last", "99.64"), ("Chg", "+0.16 (+0.16%)")],
         arrow="\u25b2", acol="#2e8b2e", plabel="$USD (Daily) 99.64", vlabel="Volume undef",
         kval="78.23", dval="46.03", rval="54.32"),
    dict(price=(112, 674, 624, 900), vol=(112, 911, 624, 990), sto=(112, 990, 624, 1068), rsi=(112, 1068, 624, 1148),
         hdr=(658, 669), hi=gold_hi, lo=gold_lo, cl=gold_cl, ylim=(3908, 5067), yt=gold_yticks, fmt="{:.0f}",
         dates=dates_other, k=(gold_k_day, gold_k), d=(gold_d_day, gold_d), r=(gold_rsi_day, gold_rsi),
         sym="$GOLD", desc="Gold - Spot", exch="CME", stamp="15-Sep-2026 1:32pm",
         quote=[("Open", "4299.19"), ("High", "4317.42"), ("Low", "4261.52"), ("Last", "4297.72"), ("Chg", "-1.37 (-0.03%)")],
         arrow="\u25bc", acol="#c02020", plabel="$GOLD (Daily) 4297.72", vlabel="Volume undef",
         kval="25.95", dval="29.86", rval="44.72"),
    dict(price=(106, 1216, 622, 1442), vol=(106, 1452, 622, 1532), sto=(106, 1532, 622, 1610), rsi=(106, 1610, 622, 1691),
         hdr=(1201, 1211), hi=xau_hi, lo=xau_lo, cl=xau_cl, ylim=(285.9, 439.5), yt=xau_yticks, fmt="{:.0f}",
         dates=dates_other, k=(xau_k_day, xau_k), d=(xau_d_day, xau_d), r=(xau_rsi_day, xau_rsi),
         sym="$XAU", desc="Gold & Silver Index - Philadelphia", exch="INDX", stamp="15-Sep-2026 1:33pm",
         quote=[("Open", "388.28"), ("High", "389.15"), ("Low", "381.19"), ("Last", "385.28"), ("Chg", "-2.33 (-0.60%)")],
         arrow="\u25bc", acol="#c02020", plabel="$XAU (Daily) 385.28", vlabel="Volume undef",
         kval="14.10", dval="33.36", rval="47.79"),
    dict(price=(104, 1757, 619, 1983), vol=(104, 1994, 619, 2073), sto=(104, 2073, 619, 2152), rsi=(104, 2152, 619, 2232),
         hdr=(1742, 1752), hi=spa_hi, lo=spa_lo, cl=spa_cl, ylim=(0.1939, 0.4251), yt=spa_yticks, fmt="{:.2f}",
         dates=dates_other, k=(spa_k_day, spa_k), d=(spa_d_day, spa_d), r=(spa_rsi_day, spa_rsi),
         sym="SPA.V", desc="Spanish Mountain Gold Ltd.", exch="TSXV", stamp="15-Sep-2026 1:16pm",
         quote=[("Open", "0.35"), ("High", "0.35"), ("Low", "0.33"), ("Last", "0.33"), ("Volume", "181.4K"),
                ("Chg", "-0.01 (-2.21%)")],
         arrow="\u25bc", acol="#c02020", plabel="SPA.V (Daily) 0.33", vlabel="Volume 181,439",
         kval="13.19", dval="36.25", rval="43.89",
         vol_data=spa_vol_m, vylim=(0, 4.2), vt=spa_vticks, vl=spa_vlabels),
    dict(price=(101, 2296, 609, 2522), vol=(101, 2533, 609, 2612), sto=(101, 2612, 609, 2691), rsi=(101, 2691, 609, 2770),
         hdr=(2280, 2291), hi=spauf_hi, lo=spauf_lo, cl=spauf_cl, ylim=(0.1347, 0.3344), yt=spauf_yticks, fmt="{:.2f}",
         dates=dates_other, k=(spauf_k_day, spauf_k), d=(spauf_d_day, spauf_d), r=(spauf_rsi_day, spauf_rsi),
         sym="SPAUF", desc="Spanish Mountain Gold Ltd.", exch="OTC", stamp="15-Sep-2026 12:17pm",
         quote=[("Open", "0.24"), ("High", "0.24"), ("Low", "0.24"), ("Last", "0.24"), ("Volume", "63.4K"),
                ("Chg", "-0.00 (-1.86%)")],
         arrow="\u25bc", acol="#c02020", plabel="SPAUF (Daily) 0.24", vlabel="Volume 63,449",
         kval="23.04", dval="56.53", rval="42.74",
         vol_data=spauf_vol_k, vylim=(0, 1890), vt=spauf_vticks, vl=spauf_vlabels),
]

for p in panels:
    xp, upp = draw_price(p["price"], p["hi"], p["lo"], p["cl"], p["ylim"], p["yt"], p["fmt"], p["dates"])
    if "vol_data" in p:
        draw_volume(p["vol"], p["vol_data"], xp, upp, p["vylim"], p["vt"], p["vl"])
    else:
        draw_volume(p["vol"])
    draw_sto(p["sto"], *p["k"], *p["d"])
    draw_rsi(p["rsi"], *p["r"], p["dates"])
    header(p["price"][0], p["price"][2], p["hdr"][0], p["hdr"][1], p["sym"], p["desc"], p["exch"],
           p["stamp"], p["quote"], p["arrow"], p["acol"])
    inner_labels(p["price"], p["vol"], p["sto"], p["rsi"], p["plabel"], p["vlabel"], p["kval"], p["dval"], p["rval"])

# ---------------- title ----------------
rich(13, 72, [("US DOLLAR, GOLD, XAU, SPA, SPAUF", dict(fontsize=17, weight="bold", color=RED)),
              ("  DAILY", dict(fontsize=21, weight="bold", color=RED)),
              ("  juxtaposition", dict(fontsize=17, weight="bold", color=RED))],
     va="baseline", family=TITLEF)

# ---------------- hand-drawn annotations ----------------
def ring(cx, cy, w, h, lw=2.2):
    ov.add_patch(Ellipse((cx, cy), w, h, fill=False, ec=RED, lw=lw))


def stroke(x0, y0, x1, y1, lw=3.0):
    ov.plot([x0, x1], [y0, y1], color=RED, lw=lw, solid_capstyle="butt")


def outline(points):
    ov.add_patch(Polygon(points, closed=True, fill=False, ec=PURPLE, lw=0.9))


def fail_box(x, y, w, h):
    ov.add_patch(FancyBboxPatch((x, y), w, h, boxstyle="round,pad=0,rounding_size=4",
                                fill=False, ec=BLUE, lw=2.0))


def word(x, y, s, size, color=RED, rot=0):
    ov.text(x, y, s, ha="center", va="center", fontsize=size, weight="bold", color=color,
            rotation=rot, family=NARROW)


# $USD
ring(299.5, 266.5, 109, 57)
ring(429, 160, 162, 46)
ring(588.5, 265, 111, 64)
stroke(230, 296, 725, 302)
word(424, 323, "NECKLINE", 14)
outline([(622, 228), (652, 228), (652, 315), (662, 315), (641, 400), (620, 315), (622, 315)])
ov.plot([705], [259], marker="v", ms=3, color=PURPLE)
# $GOLD
ring(529.5, 805, 45, 36)
ring(564.5, 758.5, 45, 47)
ring(595, 803, 48, 38)
stroke(490, 825, 676, 830)
word(567, 841, "NECKLINE", 12)
outline([(625, 840), (625, 722), (613, 722), (637, 605), (663, 722), (650, 722), (650, 840)])
ov.plot([789], [772], marker="o", ms=3, color=RED)
# $XAU
ring(554.5, 1237.5, 63, 51)
ring(598.5, 1261, 37, 38)
ring(518.5, 1316, 51, 38)
stroke(472, 1367, 697, 1215)
word(563, 1330, "NECKLINE", 12, rot=34)
outline([(619, 1317), (619, 1222), (609, 1222), (634, 1128), (658, 1222), (644, 1222), (644, 1317)])
fail_box(597, 1285, 48, 27)
word(706, 1304, "FAIL BREAK", 12.5, color=BLUE)
# SPA.V
stroke(481, 1789, 687, 1784, lw=2.6)
stroke(482, 1847, 700, 1835, lw=2.6)
word(545, 1858, "NECKLINE", 12.5)
outline([(619, 1862), (619, 1780), (617, 1780), (631, 1712), (646, 1780), (639, 1780), (639, 1862)])
fail_box(592, 1845, 29, 15)
word(582, 1877, "FAIL BREAK", 8.5, color=BLUE)
# SPAUF
ring(482.5, 2398.5, 43, 37)
ring(523, 2345, 58, 56)
ring(582.5, 2384.5, 45, 35)
stroke(442, 2422, 679, 2388)
word(525, 2421, "NECKINE", 12.5, rot=8)
outline([(611, 2420), (611, 2337), (603, 2337), (621, 2255), (641, 2337), (631, 2337), (631, 2420)])
fail_box(581, 2402, 33, 20)
word(574, 2439, "FAIL BREAK", 8.5, color=BLUE)

fig.savefig("out.png", dpi=100, facecolor="white")
